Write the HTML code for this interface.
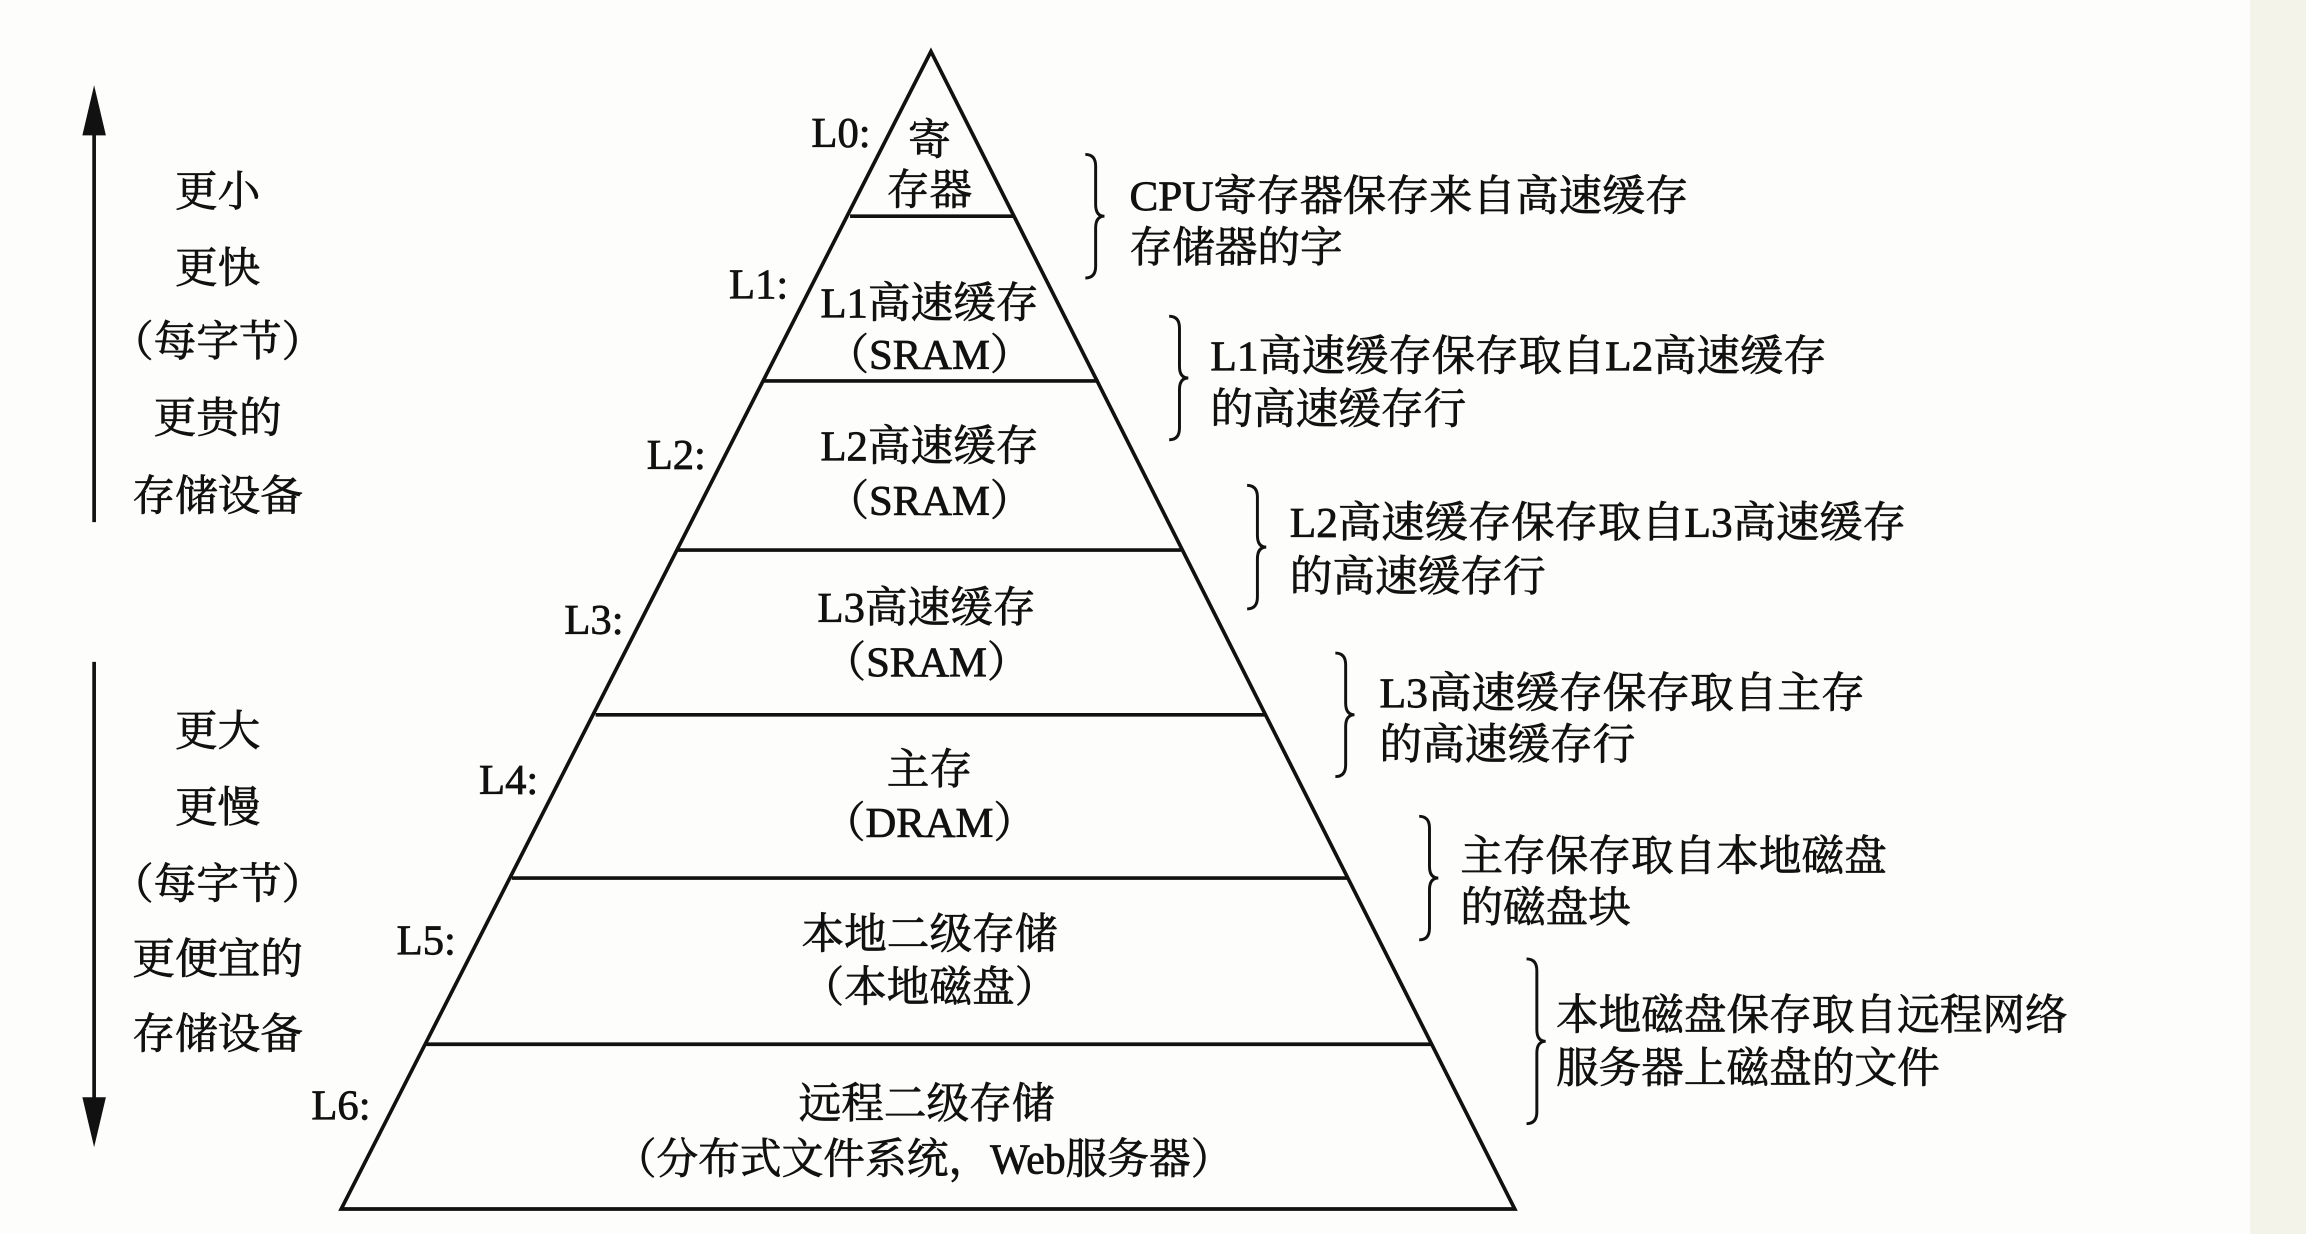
<!DOCTYPE html>
<html><head><meta charset="utf-8"><style>
html,body{margin:0;padding:0;background:#fff;}
svg{display:block}
text{font-family:"Liberation Serif","Noto Serif CJK SC","Noto Sans CJK SC",serif;fill:#111;stroke:#111;stroke-width:0.5;font-size:29px;}
</style></head><body>
<svg width="2306" height="1234" viewBox="0 0 1568 839" preserveAspectRatio="none" xmlns="http://www.w3.org/2000/svg">
<rect x="0" y="0" width="1568" height="839" fill="#fdfdfb"/>
<rect x="1530" y="0" width="38" height="839" fill="#f3f3ea"/>
<g stroke="#111" stroke-width="2.5" fill="none">
<polygon points="633,35 232,822 1030,822"/>
<line x1="578" y1="147" x2="690" y2="147"/>
<line x1="519" y1="259" x2="747" y2="259"/>
<line x1="461" y1="374" x2="803" y2="374"/>
<line x1="405" y1="486" x2="860" y2="486"/>
<line x1="348" y1="597" x2="916" y2="597"/>
<line x1="290" y1="710" x2="973" y2="710"/>
<line x1="64" y1="80" x2="64" y2="355"/>
<line x1="64" y1="450" x2="64" y2="760"/>
</g>
<polygon points="64,58 56,92 72,92" fill="#111"/>
<polygon points="64,780 56,746 72,746" fill="#111"/>
<g stroke="#111" stroke-width="2" fill="none">
<path d="M738,105 q7,0 7,8 v26 q0,8 6,8 q-6,0 -6,8 v26 q0,8 -7,8"/>
<path d="M795,215 q7,0 7,8 v26 q0,8 6,8 q-6,0 -6,8 v26 q0,8 -7,8"/>
<path d="M848,330 q7,0 7,8 v26 q0,8 6,8 q-6,0 -6,8 v26 q0,8 -7,8"/>
<path d="M908,444 q7,0 7,8 v26 q0,8 6,8 q-6,0 -6,8 v26 q0,8 -7,8"/>
<path d="M965,555 q7,0 7,8 v26 q0,8 6,8 q-6,0 -6,8 v26 q0,8 -7,8"/>
<path d="M1038,652 q7,0 7,8 v40 q0,8 6,8 q-6,0 -6,8 v40 q0,8 -7,8"/>
</g>
<g text-anchor="middle">
<text x="148" y="140">更小</text>
<text x="148" y="192">更快</text>
<text x="148" y="242">（每字节）</text>
<text x="148" y="294">更贵的</text>
<text x="148" y="347">存储设备</text>
<text x="148" y="507">更大</text>
<text x="148" y="559">更慢</text>
<text x="148" y="611">（每字节）</text>
<text x="148" y="662">更便宜的</text>
<text x="148" y="713">存储设备</text>
<text x="632" y="105">寄</text>
<text x="632" y="139">存器</text>
<text x="632" y="216">L1高速缓存</text>
<text x="632" y="251">（SRAM）</text>
<text x="632" y="313">L2高速缓存</text>
<text x="632" y="350">（SRAM）</text>
<text x="630" y="423">L3高速缓存</text>
<text x="630" y="460">（SRAM）</text>
<text x="632" y="533">主存</text>
<text x="632" y="569">（DRAM）</text>
<text x="632" y="645">本地二级存储</text>
<text x="632" y="681">（本地磁盘）</text>
<text x="630" y="760">远程二级存储</text>
<text x="628" y="798" textLength="420" lengthAdjust="spacingAndGlyphs">（分布式文件系统，Web服务器）</text>
</g>
<g text-anchor="end">
<text x="592" y="100">L0:</text>
<text x="536" y="203">L1:</text>
<text x="480" y="319">L2:</text>
<text x="424" y="431">L3:</text>
<text x="366" y="540">L4:</text>
<text x="310" y="649">L5:</text>
<text x="252" y="761">L6:</text>
</g>
<text x="768" y="143" textLength="380" lengthAdjust="spacingAndGlyphs">CPU寄存器保存来自高速缓存</text>
<text x="768" y="178">存储器的字</text>
<text x="823" y="252" textLength="419" lengthAdjust="spacingAndGlyphs">L1高速缓存保存取自L2高速缓存</text>
<text x="823" y="288">的高速缓存行</text>
<text x="877" y="365" textLength="419" lengthAdjust="spacingAndGlyphs">L2高速缓存保存取自L3高速缓存</text>
<text x="877" y="402">的高速缓存行</text>
<text x="938" y="481" textLength="330" lengthAdjust="spacingAndGlyphs">L3高速缓存保存取自主存</text>
<text x="938" y="516">的高速缓存行</text>
<text x="993" y="592">主存保存取自本地磁盘</text>
<text x="993" y="627">的磁盘块</text>
<text x="1058" y="700">本地磁盘保存取自远程网络</text>
<text x="1058" y="736">服务器上磁盘的文件</text>
</svg>
</body></html>
